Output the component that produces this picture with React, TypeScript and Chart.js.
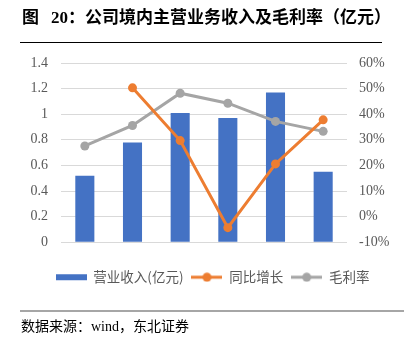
import React, { useEffect, useRef } from 'react';
import { Chart, registerables } from 'chart.js';

Chart.register(...registerables);

const categories = ['2016', '2017', '2018', '2019', '2020', '21H1'];
const revenue = [0.52, 0.78, 1.01, 0.97, 1.17, 0.55];
const yoyGrowth = [null, 50.3, 29.7, -4.3, 20.6, 37.8];
const grossMargin = [27.6, 35.6, 48.2, 44.3, 37.2, 33.3];
const seriesNames = ['营业收入(亿元)', '同比增长', '毛利率'];
const seriesColors = ['#4472C4', '#ED7D31', '#A5A5A5'];
const titleText = ['图', '20：', '公司境内主营业务收入及毛利率（亿元）'];
const sourceText = '数据来源：wind，东北证券';

function makeIcon(color: string, kind: 'bar' | 'line') {
  const c = document.createElement('canvas');
  c.width = 31;
  c.height = 10;
  const ctx = c.getContext('2d')!;
  ctx.fillStyle = color;
  ctx.strokeStyle = color;
  if (kind === 'bar') {
    ctx.fillRect(0, 2, 31, 6);
  } else {
    ctx.lineWidth = 3;
    ctx.beginPath();
    ctx.moveTo(0, 5);
    ctx.lineTo(31, 5);
    ctx.stroke();
    ctx.beginPath();
    ctx.arc(15.5, 5, 4.5, 0, Math.PI * 2);
    ctx.fill();
  }
  return c;
}

export default function App() {
  const ref = useRef<HTMLCanvasElement>(null);

  useEffect(() => {
    const icons = [
      makeIcon(seriesColors[0], 'bar'),
      makeIcon(seriesColors[1], 'line'),
      makeIcon(seriesColors[2], 'line'),
    ];
    const tickFont = { family: '"Liberation Serif", "Times New Roman", serif', size: 14 };
    const chart = new Chart(ref.current!, {
      type: 'bar',
      data: {
        labels: categories,
        datasets: [
          {
            type: 'bar',
            label: seriesNames[0],
            data: revenue,
            backgroundColor: seriesColors[0],
            barPercentage: 0.4,
            categoryPercentage: 1,
            yAxisID: 'y',
            order: 1,
          },
          {
            type: 'line',
            label: seriesNames[1],
            data: yoyGrowth,
            borderColor: seriesColors[1],
            backgroundColor: seriesColors[1],
            borderWidth: 3,
            pointRadius: 4.5,
            pointBorderWidth: 0,
            pointBackgroundColor: seriesColors[1],
            tension: 0,
            yAxisID: 'y1',
            order: 0,
          },
          {
            type: 'line',
            label: seriesNames[2],
            data: grossMargin,
            borderColor: seriesColors[2],
            backgroundColor: seriesColors[2],
            borderWidth: 3,
            pointRadius: 4.5,
            pointBorderWidth: 0,
            pointBackgroundColor: seriesColors[2],
            tension: 0,
            yAxisID: 'y1',
            order: 0,
          },
        ],
      } as any,
      options: {
        responsive: false,
        animation: false,
        layout: { padding: { top: 63, bottom: 50, left: 21, right: 0 } },
        plugins: {
          tooltip: { enabled: false },
          legend: {
            position: 'bottom',
            labels: {
              usePointStyle: true,
              pointStyleWidth: 31,
              padding: 8,
              color: '#595959',
              font: { family: '"Noto Sans CJK SC", sans-serif', size: 13.5 },
              sort: (a: any, b: any) => a.datasetIndex - b.datasetIndex,
              generateLabels: () =>
                seriesNames.map((name, i) => ({
                  text: name,
                  fillStyle: seriesColors[i],
                  strokeStyle: seriesColors[i],
                  lineWidth: 0,
                  pointStyle: icons[i],
                  datasetIndex: i,
                  hidden: false,
                  fontColor: '#595959',
                })),
            },
          },
        },
        scales: {
          x: {
            grid: { display: false },
            border: { display: false },
            ticks: { font: tickFont, color: '#595959', padding: 11 },
            afterFit: (s: any) => {
              s.height = 20.25;
            },
          },
          y: {
            position: 'left',
            min: 0,
            max: 1.4,
            border: { display: false },
            grid: { color: '#D9D9D9', lineWidth: 1, drawTicks: false },
            ticks: {
              stepSize: 0.2,
              font: tickFont,
              color: '#595959',
              padding: 13,
              callback: (v: any) => String(Number(Number(v).toFixed(1))),
            },
            afterFit: (s: any) => {
              s.width = 40;
            },
          },
          y1: {
            position: 'right',
            min: -10,
            max: 60,
            border: { display: false },
            grid: { drawOnChartArea: false, drawTicks: false },
            ticks: {
              stepSize: 10,
              font: tickFont,
              color: '#595959',
              padding: 12,
              callback: (v: any) => `${v}%`,
            },
            afterFit: (s: any) => {
              s.width = 57;
            },
          },
        },
      } as any,
    });
    return () => chart.destroy();
  }, []);

  const cjkSerif = '"Liberation Serif", "Noto Sans CJK SC", serif';

  return (
    <div style={{ position: 'absolute', left: 0, top: 0, width: 404, height: 344, background: '#fff', overflow: 'hidden' }}>
      <canvas ref={ref} width={404} height={344} style={{ position: 'absolute', left: 0, top: 0, display: 'block' }} />
      <div
        style={{
          position: 'absolute',
          left: 22,
          top: 6,
          fontFamily: cjkSerif,
          fontWeight: 'bold',
          fontSize: 17,
          lineHeight: '24px',
          color: '#000',
          whiteSpace: 'nowrap',
        }}
      >
        <span>{titleText[0]}</span>
        <span style={{ marginLeft: 12 }}>{titleText[1]}</span>
        <span>{titleText[2]}</span>
      </div>
      <div style={{ position: 'absolute', left: 20, top: 42, width: 362, height: 1, background: '#000' }} />
      <div style={{ position: 'absolute', left: 20, top: 310, width: 384, height: 2, background: '#A6A6A6' }} />
      <div
        style={{
          position: 'absolute',
          left: 21,
          top: 318,
          fontFamily: cjkSerif,
          fontSize: 14,
          lineHeight: '18px',
          color: '#000',
          whiteSpace: 'nowrap',
        }}
      >
        {sourceText}
      </div>
    </div>
  );
}
